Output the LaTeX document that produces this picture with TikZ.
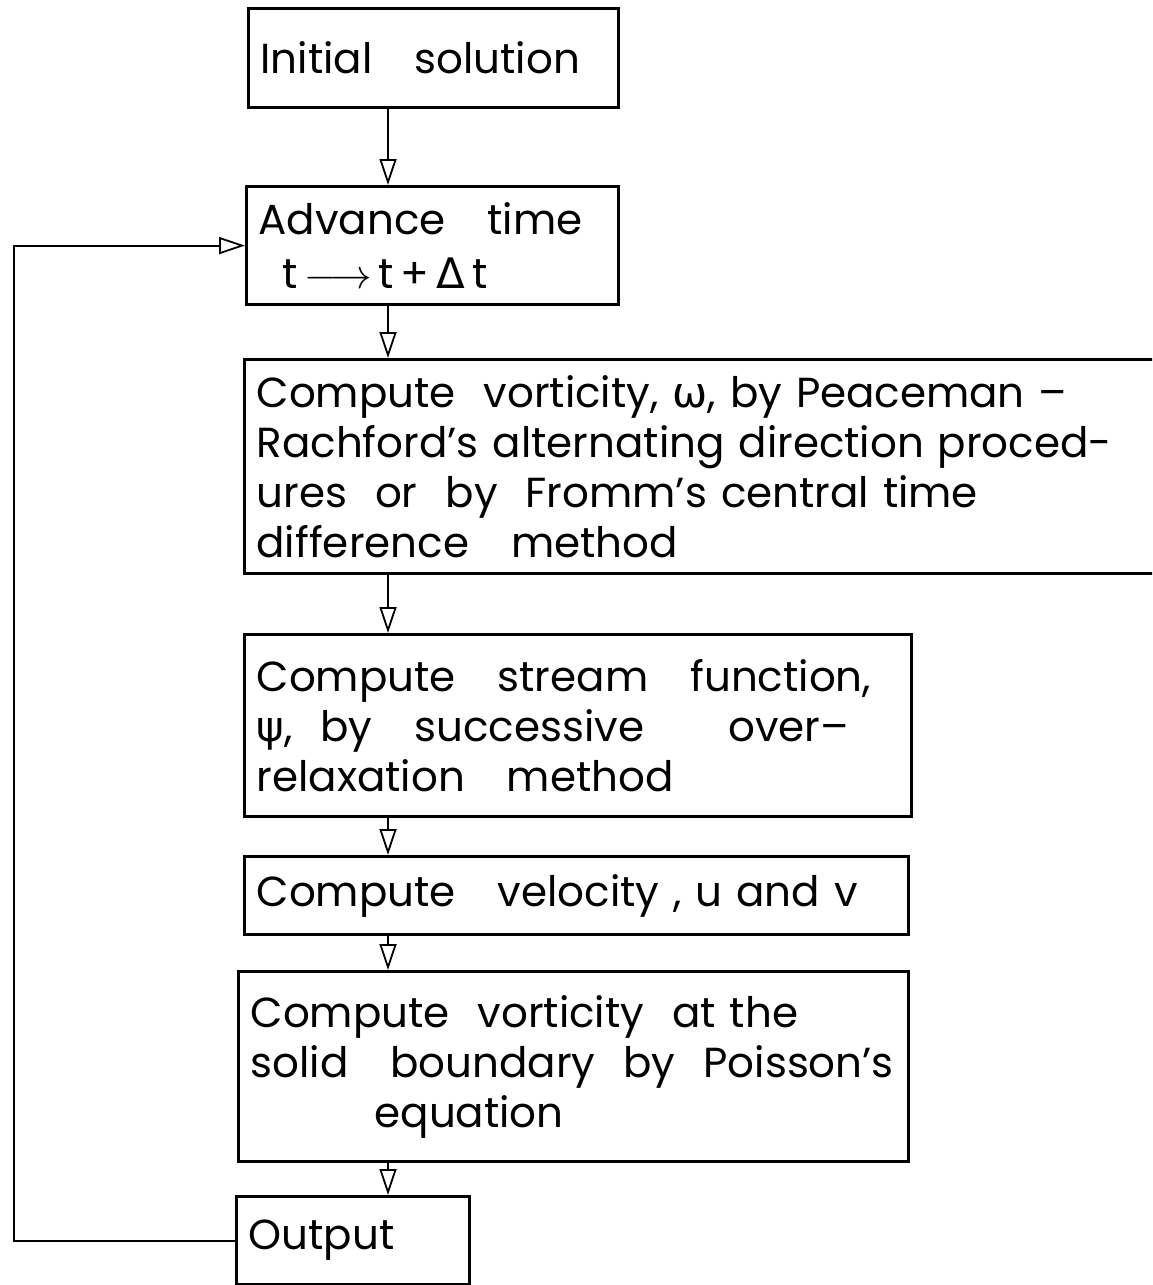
\documentclass[tikz,border=0pt]{standalone}
\usepackage{fontspec}
\setmainfont{Poppins}
\newfontfamily\greekfont{DejaVu Sans}
\usetikzlibrary{arrows.meta}

\begin{document}
\begin{tikzpicture}[x=0.5pt,y=-0.5pt,
  box/.style 2 args={draw,line width=1.6pt,anchor=north west,align=left,
    text width=#1,minimum height=#2,inner xsep=6pt,inner ysep=0pt,
    font=\fontsize{21}{25}\selectfont},
  flow/.style={line width=1pt,-{Triangle[open,length=13pt,width=8.5pt,line width=0.9pt]}}]
  \clip (0,0) rectangle (1152,1285);
  % boxes
  \node[box={173pt}{49.5pt}] (init) at (247,7) {Initial\quad solution};
  \node[box={174pt}{59pt}] (adv) at (245,185)
    {Advance\quad time\\[2pt]
     \hspace*{12pt}t\,$\longrightarrow$\,t\,+\,{\greekfont Δ}\,t};
  \node[box={451.5pt}{107pt}] (vort) at (243,358)
    {Compute\ \ vorticity, {\greekfont ω}, by Peaceman --\\
     Rachford's alternating direction proced-\\
     ures\ \ or\ \ by\ \ Fromm's central time\\
     difference\quad method};
  \node[box={321.5pt}{91pt}] (strm) at (243,633)
    {Compute\quad stream\quad function,\\
     {\greekfont ψ},\ \ by\quad successive\qquad over--\\
     relaxation\quad method};
  \node[box={320pt}{39pt}] (velo) at (243,855) {Compute\quad velocity , u and v};
  \node[box={323pt}{95pt}] (wall) at (237,970)
    {Compute\ \ vorticity\ \ at the\\
     solid\quad boundary\ \ by\ \ Poisson's\\
     \hspace*{62pt}equation};
  \node[box={104.5pt}{44pt}] (out) at (235,1195) {Output};
  % connectors
  \coordinate (spine) at (388,0);
  \coordinate (back) at (14,0);
  \draw[flow] (init.south -| spine) -- (adv.north -| spine);
  \draw[flow] (adv.south -| spine) -- (vort.north -| spine);
  \draw[flow] (vort.south -| spine) -- (strm.north -| spine);
  \draw[flow] (strm.south -| spine) -- (velo.north -| spine);
  \draw[flow] (velo.south -| spine) -- (wall.north -| spine);
  \draw[flow] (wall.south -| spine) -- (out.north -| spine);
  \draw[flow] (out.west) -- (out.west -| back) -- (adv.west -| back) -- (adv.west);
\end{tikzpicture}
\end{document}
